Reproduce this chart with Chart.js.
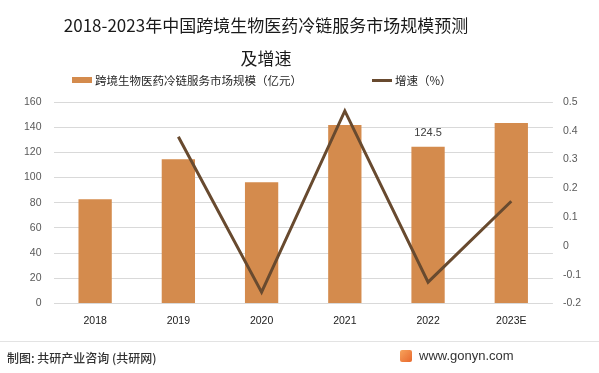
<!DOCTYPE html>
<html>
<head>
<meta charset="utf-8">
<script src="https://cdn.jsdelivr.net/npm/chart.js@4.4.0/dist/chart.umd.min.js"></script>
<style>
    body { margin: 0; background: #fff; }
    #wrap { position: relative; width: 599px; height: 373px; overflow: hidden; font-family: "Noto Sans CJK SC", "Noto Sans", sans-serif; }
    #chart { position: absolute; left: 0; top: 0; }
    #title { position: absolute; left: 0; top: 9px; width: 532px; text-align: center; font-size: 17px; line-height: 32.5px; color: #1a1a1a; white-space: nowrap; }
    .legend-item { position: absolute; top: 72px; display: flex; align-items: center; font-size: 11.5px; color: #262626; white-space: nowrap; }
    .legend-mark { display: inline-block; width: 20px; margin-right: 3px; }
    #footer-line { position: absolute; left: 0; right: 0; top: 341px; border-top: 1px solid #e3e3e3; }
    #source { position: absolute; left: 7px; top: 349px; font-size: 12px; font-weight: 500; color: #333; }
    #site { position: absolute; left: 400px; top: 348px; display: flex; align-items: center; font-family: "Liberation Sans", Arial, sans-serif; font-size: 13px; color: #333; }
    #logo { width: 12px; height: 12px; margin-right: 7px; background: linear-gradient(135deg, #f7a35c, #e8682d); border-radius: 2px; }
</style>
</head>
<body>
<div id="wrap">
    <canvas id="chart" width="599" height="373"></canvas>
    <div id="title">2018-2023年中国跨境生物医药冷链服务市场规模预测<br>及增速</div>
    <div id="legend"></div>
    <div id="footer-line"></div>
    <div id="source">制图: 共研产业咨询 (共研网)</div>
    <div id="site"><span id="logo"></span>www.gonyn.com</div>
</div>
<script>
// chart data
const years = ["2018", "2019", "2020", "2021", "2022", "2023E"];
const marketSize = [82.8, 114.6, 96.3, 141.7, 124.5, 143.3];   // 亿元
const growthRate = [null, 0.379, -0.161, 0.469, -0.126, 0.155];
const labeledYears = ["2022"];

const sizeLabel = "跨境生物医药冷链服务市场规模（亿元）";
const growthLabel = "增速（%）";

const barColor = "#d48b4d";
const lineColor = "#684a2f";

// value label above selected bars
const barValueLabels = {
    id: "barValueLabels",
    afterDatasetsDraw(chart) {
        const ctx = chart.ctx;
        const meta = chart.getDatasetMeta(0);
        ctx.save();
        ctx.font = "11px 'Liberation Sans', Arial, sans-serif";
        ctx.fillStyle = "#404040";
        ctx.textAlign = "center";
        ctx.textBaseline = "middle";
        meta.data.forEach((bar, i) => {
            if (labeledYears.includes(years[i])) {
                ctx.fillText(String(marketSize[i]), bar.x, bar.y - 14);
            }
        });
        ctx.restore();
    }
};

const tickFont = { family: "'Liberation Sans', Arial, sans-serif", size: 10.5 };

const chart = new Chart(document.getElementById("chart"), {
    type: "bar",
    data: {
        labels: years,
        datasets: [
            {
                type: "bar",
                label: sizeLabel,
                data: marketSize,
                backgroundColor: barColor,
                yAxisID: "y",
                categoryPercentage: 1,
                barPercentage: 0.4,
                order: 1
            },
            {
                type: "line",
                label: growthLabel,
                data: growthRate,
                borderColor: lineColor,
                backgroundColor: lineColor,
                borderWidth: 3,
                pointRadius: 0,
                tension: 0,
                yAxisID: "y1",
                order: 0
            }
        ]
    },
    options: {
        responsive: false,
        animation: false,
        layout: { padding: { top: 102, left: 12, right: 8, bottom: 43 } },
        plugins: {
            legend: { display: false },
            title: { display: false },
            tooltip: { enabled: false }
        },
        scales: {
            x: {
                grid: { display: false },
                border: { display: false },
                ticks: { color: "#1a1a1a", font: tickFont, padding: 3 }
            },
            y: {
                position: "left",
                min: 0,
                max: 160,
                ticks: { stepSize: 20, color: "#595959", font: tickFont, padding: 12 },
                grid: { color: "#d9d9d9", drawTicks: false },
                border: { display: false }
            },
            y1: {
                position: "right",
                min: -0.2,
                max: 0.5,
                ticks: {
                    stepSize: 0.1,
                    color: "#595959",
                    font: tickFont,
                    padding: 10,
                    callback: v => String(Math.round(v * 10) / 10)
                },
                grid: { display: false, drawTicks: false },
                border: { display: false }
            }
        }
    },
    plugins: [barValueLabels]
});

// HTML legend built from the datasets
const legendLeft = [72, 372];
const legendBox = document.getElementById("legend");
chart.data.datasets.forEach((ds, i) => {
    const item = document.createElement("div");
    item.className = "legend-item";
    item.style.left = legendLeft[i] + "px";
    const mark = document.createElement("span");
    mark.className = "legend-mark";
    mark.style.background = ds.type === "line" ? ds.borderColor : ds.backgroundColor;
    mark.style.height = ds.type === "line" ? "3px" : "6px";
    item.appendChild(mark);
    item.appendChild(document.createTextNode(ds.label));
    legendBox.appendChild(item);
});
</script>
</body>
</html>
